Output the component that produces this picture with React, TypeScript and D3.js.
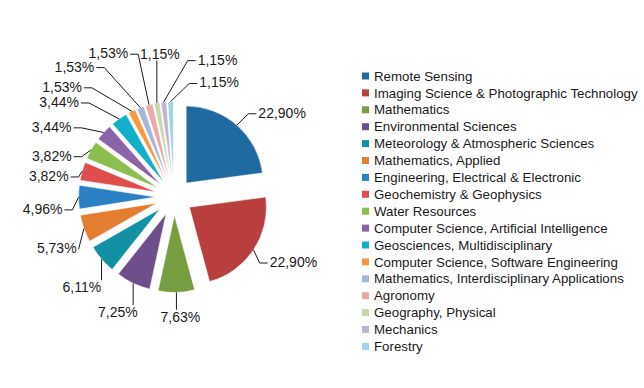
import { useEffect, useRef } from "react";
import * as d3 from "d3";

const categories = [
  "Remote Sensing",
  "Imaging Science & Photographic Technology",
  "Mathematics",
  "Environmental Sciences",
  "Meteorology & Atmospheric Sciences",
  "Mathematics, Applied",
  "Engineering, Electrical & Electronic",
  "Geochemistry & Geophysics",
  "Water Resources",
  "Computer Science, Artificial Intelligence",
  "Geosciences, Multidisciplinary",
  "Computer Science, Software Engineering",
  "Mathematics, Interdisciplinary Applications",
  "Agronomy",
  "Geography, Physical",
  "Mechanics",
  "Forestry",
];

const shares = [
  22.9, 22.9, 7.63, 7.25, 6.11, 5.73, 4.96, 3.82, 3.82, 3.44, 3.44, 1.53, 1.53,
  1.53, 1.15, 1.15, 1.15,
];

const colors = [
  "#1f6aa1", "#b83f3d", "#779d41", "#6e4f8b", "#1391a4", "#e37e31",
  "#2a80c3", "#df4e4b", "#8bbe4d", "#8b63a9", "#13aeca", "#f9983d",
  "#a5b8da", "#e9a9a7", "#c4daab", "#c1b3d5", "#9ed3e3",
];

// label tweaks, Excel-style: [degrees off the slice middle, extra radius]
const labelShift = [
  [10.9, 9], [-5, 8], [-1.6, -8], [0.7, 0], [-3.8, 1], [-4.3, 0],
  [-5.1, 4], [-6.2, -1], [-10.8, 1], [-12.7, 13], [-15.3, 21], [-19.3, 29],
  [-16.7, 36], [-9.4, 30], [4.7, 16], [23.8, 16], [23.6, -5],
];

const fmt = (v: number) => v.toFixed(2).replace(".", ",") + "%";

const App = () => {
  const svgRef = useRef<SVGSVGElement>(null);

  useEffect(() => {
    document.body.style.margin = "0";
    const svg = d3.select(svgRef.current);
    svg.selectAll("*").remove();

    const cx = 174;
    const cy = 197;
    const radius = 77;
    const explode = 18.5;
    const labelRadius = 128;

    const pie = d3.pie<number>().sort(null).value((d) => d);
    const arcs = pie(shares);
    const arc = d3.arc<d3.PieArcDatum<number>>().innerRadius(0).outerRadius(radius);

    const g = svg.append("g").attr("transform", `translate(${cx},${cy})`);
    const polar = (a: number, r: number) => [r * Math.sin(a), -r * Math.cos(a)];

    // slices, each pulled out along its middle
    g.selectAll("path.slice")
      .data(arcs)
      .enter()
      .append("path")
      .attr("class", "slice")
      .attr("d", arc)
      .attr("fill", (d, i) => colors[i])
      .attr("stroke", "#fff")
      .attr("stroke-width", 0.5)
      .attr("transform", (d) => {
        const [x, y] = polar((d.startAngle + d.endAngle) / 2, explode);
        return `translate(${x},${y})`;
      });

    // data labels
    const labels = g.selectAll("text.lbl")
      .data(arcs)
      .enter()
      .append("text")
      .attr("class", "lbl")
      .attr("text-anchor", "middle")
      .attr("dy", "0.35em")
      .attr("font-family", "Liberation Sans, Arial, sans-serif")
      .attr("font-size", 14)
      .attr("fill", "#1a1a1a")
      .each(function (d, i) {
        const mid = (d.startAngle + d.endAngle) / 2;
        const a = mid + (labelShift[i][0] * Math.PI) / 180;
        const [x, y] = polar(a, labelRadius + labelShift[i][1]);
        d3.select(this).attr("x", x).attr("y", y);
      })
      .text((d) => fmt(d.data));

    // leader lines from the arc middle to the label
    labels.each(function (d) {
      const box = (this as SVGTextElement).getBBox();
      const mid = (d.startAngle + d.endAngle) / 2;
      const [sx, sy] = polar(mid, radius + explode);
      const ly = box.y + box.height / 2 + 1;
      const pts: [number, number][] = [[sx, sy]];
      if (sx < box.x - 2 || sx > box.x + box.width + 2) {
        const left = sx < box.x;
        const ex = left ? box.x - 2 : box.x + box.width + 2;
        if (Math.abs(sx - ex) > 10) pts.push([ex + (left ? -8 : 8), ly]);
        pts.push([ex, ly]);
      } else {
        pts.push([sx, sy < box.y ? box.y + 1 : box.y + box.height - 1]);
      }
      g.insert("path", "text")
        .attr("d", d3.line()(pts))
        .attr("fill", "none")
        .attr("stroke", "#1a1a1a")
        .attr("stroke-width", 1);
    });

    // legend
    const rowH = 16.9;
    const legend = svg.append("g").attr("transform", "translate(362,76)");
    const rows = legend.selectAll("g")
      .data(categories)
      .enter()
      .append("g")
      .attr("transform", (d, i) => `translate(0,${i * rowH})`);
    rows.append("rect")
      .attr("x", 0)
      .attr("y", -3.5)
      .attr("width", 7)
      .attr("height", 7)
      .attr("fill", (d, i) => colors[i]);
    rows.append("text")
      .attr("x", 12)
      .attr("dy", "0.35em")
      .attr("font-family", "Liberation Sans, Arial, sans-serif")
      .attr("font-size", 13.3)
      .attr("fill", "#1a1a1a")
      .text((d) => d);
  }, []);

  return <svg ref={svgRef} width={644} height={388} style={{ display: "block", background: "#fff" }} />;
};

export default App;
